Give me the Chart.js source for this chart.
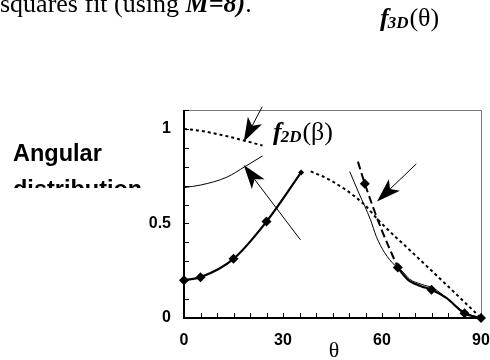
<!DOCTYPE html>
<html>
<head>
<meta charset="utf-8">
<script src="https://cdn.jsdelivr.net/npm/chart.js@4.4.1/dist/chart.umd.min.js"></script>
<style>
  html, body { margin: 0; padding: 0; background: #fff; }
  #wrap { width: 490px; height: 360px; position: relative; }
</style>
</head>
<body>
<div id="wrap"><canvas id="angChart" width="490" height="360"></canvas></div>
<script>
// measured points (diamonds)
const markTheta = [0, 5, 15, 25, 35.5, 54.8, 64.8, 75, 85, 90];
const markF     = [0.2, 0.216, 0.313, 0.51, 0.77, 0.71, 0.267, 0.15, 0.025, 0];

// thick fit, left branch
const fitLeftTheta = [0, 5, 15, 25, 35.5];
const fitLeftF     = [0.2, 0.216, 0.313, 0.51, 0.77];

// thick fit, right branch
const fitRightTheta = [64.8, 66.4, 68.4, 72, 75, 79.5, 85, 90];
const fitRightF     = [0.267, 0.23, 0.195, 0.167, 0.15, 0.106, 0.025, 0];

// thick dashed piece
const dashTheta = [52.7, 54.8, 59.8, 64.8];
const dashF     = [0.827, 0.71, 0.47, 0.267];

// thin solid curves
const thinLeftTheta = [0, 5, 13, 18.4, 23.8];
const thinLeftF     = [0.69, 0.703, 0.745, 0.8, 0.857];
const thinRightTheta = [50.2, 53, 56.5, 58.3, 60.8, 63.8, 66, 68.4, 72, 75.5, 80, 85, 90];
const thinRightF     = [0.775, 0.66, 0.52, 0.43, 0.345, 0.28, 0.25, 0.205, 0.178, 0.158, 0.1, 0.03, 0];

// dotted curves (f2D)
const dotLeftTheta = [0, 5, 10, 15, 20, 23.8];
const dotLeftF     = [1.0, 0.99, 0.973, 0.953, 0.93, 0.912];
const dotRightTheta = [38.4, 44.2, 54.2, 59.3, 69.4, 79.5, 90];
const dotRightF     = [0.775, 0.73, 0.607, 0.51, 0.343, 0.176, 0];

// arrows (data units)
const arrowFromTheta = [23.7, 35.3, 70.4];
const arrowFromF     = [1.117, 0.413, 0.815];
const arrowToTheta   = [18.1, 18.1, 58.5];
const arrowToF       = [0.932, 0.809, 0.616];

// tick labels
const xLabelValues = [0, 30, 60, 90];
const yLabelValues = [0, 0.5, 1];
const yLabelText   = ['0', '0.5', '1'];

const pts = (xs, ys) => xs.map((x, i) => ({x: x, y: ys[i]}));

function lineSet(xs, ys, width, dash) {
    return {
        data: pts(xs, ys),
        borderColor: '#000',
        borderWidth: width,
        borderDash: dash || [],
        pointRadius: 0,
        cubicInterpolationMode: 'monotone',
        fill: false,
        clip: false
    };
}

function drawArrow(ctx, x0, y0, x1, y1) {
    const dx = x1 - x0, dy = y1 - y0;
    const len = Math.sqrt(dx * dx + dy * dy);
    const ux = dx / len, uy = dy / len;
    const nx = -uy, ny = ux;
    const L = 24, W = 8, N = 18;
    ctx.beginPath();
    ctx.moveTo(x0, y0);
    ctx.lineTo(x1 - ux * N, y1 - uy * N);
    ctx.lineWidth = 1;
    ctx.stroke();
    ctx.beginPath();
    ctx.moveTo(x1, y1);
    ctx.lineTo(x1 - ux * L + nx * W, y1 - uy * L + ny * W);
    ctx.lineTo(x1 - ux * N, y1 - uy * N);
    ctx.lineTo(x1 - ux * L - nx * W, y1 - uy * L - ny * W);
    ctx.closePath();
    ctx.fill();
}

const decor = {
    id: 'decor',
    afterDraw(chart) {
        const ctx = chart.ctx;
        const xs = chart.scales.x, ys = chart.scales.y;
        const a = chart.chartArea;
        ctx.save();
        // frame
        ctx.strokeStyle = '#777';
        ctx.lineWidth = 1;
        ctx.beginPath();
        ctx.moveTo(a.left, a.top + 0.5);
        ctx.lineTo(a.right + 0.5, a.top + 0.5);
        ctx.lineTo(a.right + 0.5, a.bottom);
        ctx.stroke();
        ctx.strokeStyle = '#000';
        ctx.lineWidth = 2;
        ctx.beginPath();
        ctx.moveTo(a.left, a.top);
        ctx.lineTo(a.left, a.bottom);
        ctx.lineTo(a.right + 1, a.bottom);
        ctx.stroke();
        // inward ticks
        ctx.lineWidth = 1;
        ctx.beginPath();
        ys.ticks.forEach(t => {
            const py = Math.round(ys.getPixelForValue(t.value)) + 0.5;
            ctx.moveTo(a.left, py);
            ctx.lineTo(a.left + 5, py);
        });
        xs.ticks.forEach(t => {
            const px = Math.round(xs.getPixelForValue(t.value)) + 0.5;
            ctx.moveTo(px, a.bottom);
            ctx.lineTo(px, a.bottom - 5);
        });
        ctx.stroke();
        // arrows
        ctx.fillStyle = '#000';
        arrowFromTheta.forEach((t, i) => {
            drawArrow(ctx,
                xs.getPixelForValue(t), ys.getPixelForValue(arrowFromF[i]),
                xs.getPixelForValue(arrowToTheta[i]), ys.getPixelForValue(arrowToF[i]));
        });
        // texts
        ctx.textBaseline = 'alphabetic';
        ctx.textAlign = 'left';
        const serif = '"Liberation Serif", "Times New Roman", serif';
        const sans = '"Liberation Sans", Arial, sans-serif';
        let x = 0;
        ctx.font = '26px ' + serif;
        ctx.fillText('squares fit (using ', x, 12);
        x += ctx.measureText('squares fit (using ').width;
        ctx.font = 'italic bold 26px ' + serif;
        ctx.fillText('M=8)', x, 12);
        x += ctx.measureText('M=8)').width;
        ctx.font = '26px ' + serif;
        ctx.fillText('.', x, 12);

        function fLabel(sub, arg, x0, base) {
            ctx.font = 'italic bold 26px ' + serif;
            ctx.fillText('f', x0, base);
            let xx = x0 + ctx.measureText('f').width - 1;
            ctx.font = 'italic bold 17px ' + serif;
            ctx.fillText(sub, xx, base + 2);
            xx += ctx.measureText(sub).width + 1;
            ctx.font = '26px ' + serif;
            ctx.fillText('(' + arg + ')', xx, base);
        }
        fLabel('3D', 'θ', 380, 26);
        fLabel('2D', 'β', 273, 140);

        ctx.font = 'bold 23.5px ' + sans;
        ctx.fillText('Angular', 13, 161);
        ctx.save();
        ctx.beginPath();
        ctx.rect(0, 170, 180, 18);
        ctx.clip();
        ctx.fillText('distribution', 13, 197);
        ctx.restore();

        ctx.font = '22px ' + serif;
        ctx.textAlign = 'center';
        ctx.fillText('θ', 334, 357);
        ctx.restore();
    }
};

const ctx = document.getElementById('angChart').getContext('2d');
new Chart(ctx, {
    type: 'line',
    data: {
        datasets: [
            lineSet(dotLeftTheta, dotLeftF, 2, [3, 3]),
            lineSet(dotRightTheta, dotRightF, 2, [3, 3]),
            lineSet(thinLeftTheta, thinLeftF, 1),
            lineSet(thinRightTheta, thinRightF, 1),
            lineSet(dashTheta, dashF, 2, [8, 4]),
            lineSet(fitLeftTheta, fitLeftF, 2.2),
            lineSet(fitRightTheta, fitRightF, 2.2),
            {
                data: pts(markTheta, markF),
                showLine: false,
                pointStyle: 'rectRot',
                pointRadius: c => (c.dataIndex === 4 ? 3 : 5),
                pointBackgroundColor: '#000',
                pointBorderColor: '#000',
                pointBorderWidth: 0,
                clip: false
            }
        ]
    },
    options: {
        responsive: false,
        animation: false,
        events: [],
        layout: { padding: { left: 0, top: 110, right: 9, bottom: 0 } },
        plugins: { legend: { display: false }, tooltip: { enabled: false } },
        scales: {
            x: {
                type: 'linear',
                min: 0, max: 90,
                grid: { display: false },
                border: { display: false },
                afterFit: s => { s.height = 42; s.paddingLeft = 0; s.paddingRight = 0; },
                ticks: {
                    stepSize: 5,
                    autoSkip: false,
                    maxRotation: 0,
                    padding: 5,
                    color: '#000',
                    font: { family: '"Liberation Sans", Arial, sans-serif', size: 16, weight: 'bold' },
                    callback: v => (xLabelValues.includes(v) ? String(v) : '')
                }
            },
            y: {
                min: 0, max: 1.1,
                grid: { display: false },
                border: { display: false },
                afterFit: s => { s.width = 184; s.paddingTop = 0; s.paddingBottom = 0; },
                ticks: {
                    stepSize: 0.1,
                    autoSkip: false,
                    padding: 5,
                    color: '#000',
                    font: { family: '"Liberation Sans", Arial, sans-serif', size: 16, weight: 'bold' },
                    callback: v => {
                        const i = yLabelValues.findIndex(y => Math.abs(y - v) < 1e-6);
                        return i >= 0 ? yLabelText[i] : '';
                    }
                }
            }
        }
    },
    plugins: [decor]
});
</script>
</body>
</html>
